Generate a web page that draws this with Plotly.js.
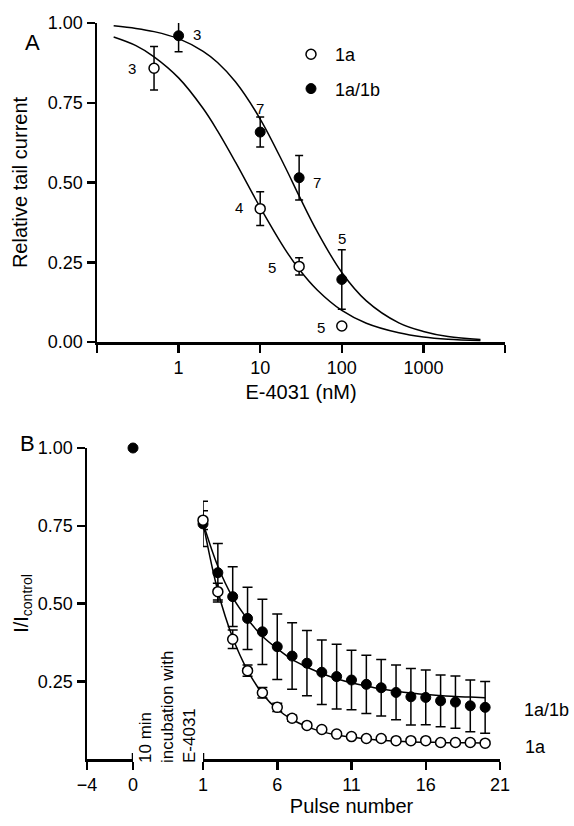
<!DOCTYPE html>
<html>
<head>
<meta charset="utf-8">
<script src="https://cdn.plot.ly/plotly-3.0.1.min.js"></script>
<style>html,body{margin:0;padding:0;background:#fff;}#chart{width:574px;height:826px;}</style>
</head>
<body>
<div id="chart"></div>
<script>
// ---------- Panel A data ----------
const concOpen = [0.5, 10, 30, 100];
const relOpen = [0.858, 0.418, 0.237, 0.05];
const errOpen = [0.068, 0.053, 0.027, 0];
const nOpen = ['3', '4', '5', '5'];

const concFilled = [1, 10, 30, 100];
const relFilled = [0.96, 0.658, 0.515, 0.196];
const errFilled = [0.05, 0.047, 0.07, 0.093];
const nFilled = ['3', '7', '7', '5'];

// fitted curves
const fitConc = [0.16, 0.3, 0.5, 1, 2, 3, 5, 10, 20, 30, 50, 100, 200, 500, 1000, 2000, 5000];
const fitOpenA = [0.956, 0.929, 0.894, 0.828, 0.732, 0.662, 0.563, 0.422, 0.292, 0.228, 0.163, 0.099, 0.059, 0.029, 0.016, 0.009, 0.0045];
const fitFilledA = [0.991, 0.983, 0.973, 0.951, 0.911, 0.876, 0.815, 0.699, 0.551, 0.458, 0.346, 0.218, 0.129, 0.060, 0.033, 0.017, 0.008];

const xTicksA = [1, 10, 100, 1000];
const xTickTextA = ['1', '10', '100', '1000'];
const xEndTicksA = [0.1, 10000];
const yTicks = [0, 0.25, 0.5, 0.75, 1];
const yTickTextA = ['0.00', '0.25', '0.50', '0.75', '1.00'];

// ---------- Panel B data ----------
const pulses = [1,2,3,4,5,6,7,8,9,10,11,12,13,14,15,16,17,18,19,20];
const open1a = [0.768,0.538,0.385,0.284,0.213,0.166,0.131,0.108,0.095,0.080,0.072,0.066,0.066,0.059,0.059,0.059,0.053,0.053,0.053,0.051];
const open1aErr = [0.03,0.027,0.03,0.018,0.017,0.013,0.01,0.006,0.005,0.005,0.005,0.005,0.005,0.005,0.005,0.005,0.005,0.005,0.005,0.005];
const filled1b = [0.756,0.599,0.522,0.452,0.409,0.361,0.331,0.308,0.279,0.265,0.254,0.240,0.229,0.214,0.200,0.198,0.187,0.183,0.171,0.166];
const filled1bErr = [0.073,0.094,0.096,0.100,0.105,0.105,0.107,0.105,0.104,0.104,0.096,0.094,0.091,0.088,0.091,0.088,0.083,0.084,0.083,0.083];
const fitOpenB = [0.76,0.54,0.39,0.285,0.21,0.16,0.127,0.104,0.088,0.077,0.07,0.064,0.06,0.057,0.055,0.054,0.053,0.052,0.052,0.051];
const fitFilledB = [0.76,0.62,0.52,0.45,0.395,0.355,0.32,0.295,0.275,0.258,0.245,0.235,0.225,0.218,0.212,0.207,0.204,0.201,0.199,0.197];
const controlX = [0];
const controlY = [1.0];
const xTicksB1 = [-4, 0];
const xTicksB2 = [1, 6, 11, 16, 21];
const yTicksB = [0.25, 0.5, 0.75, 1];
const yTickTextB = ['0.25', '0.50', '0.75', '1.00'];

const FONT = 'Arial, "Liberation Sans", sans-serif';
const W = 574, H = 826;
const px = v => v / W;
const py = v => 1 - v / H;

const lineStyle = {color: '#000', width: 1.5};
const openMarker = {symbol: 'circle', size: 10, color: '#fff', line: {color: '#000', width: 1.5}};
const filledMarker = {symbol: 'circle', size: 10, color: '#000', line: {color: '#000', width: 1}};

const traces = [
  {x: fitConc, y: fitOpenA, mode: 'lines', line: {...lineStyle, shape: 'spline'}, showlegend: false, xaxis: 'x', yaxis: 'y', hoverinfo: 'skip'},
  {x: fitConc, y: fitFilledA, mode: 'lines', line: {...lineStyle, shape: 'spline'}, showlegend: false, xaxis: 'x', yaxis: 'y', hoverinfo: 'skip'},
  {x: concOpen, y: relOpen, name: '1a', legendgroup: 'g1', mode: 'markers', marker: openMarker, cliponaxis: false,
   error_y: {type: 'data', array: errOpen, color: '#000', thickness: 1.5, width: 4}, xaxis: 'x', yaxis: 'y'},
  {x: concFilled, y: relFilled, name: '1a/1b', legendgroup: 'g2', mode: 'markers', marker: filledMarker, cliponaxis: false,
   error_y: {type: 'data', array: errFilled, color: '#000', thickness: 1.5, width: 4}, xaxis: 'x', yaxis: 'y'},
  // Panel B
  {x: pulses, y: fitOpenB, mode: 'lines', line: {...lineStyle, shape: 'spline'}, showlegend: false, xaxis: 'x3', yaxis: 'y2', hoverinfo: 'skip'},
  {x: pulses, y: fitFilledB, mode: 'lines', line: {...lineStyle, shape: 'spline'}, showlegend: false, xaxis: 'x3', yaxis: 'y2', hoverinfo: 'skip'},
  {x: pulses, y: filled1b, mode: 'markers', marker: filledMarker, showlegend: false, cliponaxis: false,
   error_y: {type: 'data', array: filled1bErr, color: '#000', thickness: 1.5, width: 5}, xaxis: 'x3', yaxis: 'y2'},
  {x: pulses, y: open1a, mode: 'markers', marker: openMarker, showlegend: false, cliponaxis: false,
   error_y: {type: 'data', array: open1aErr, color: '#000', thickness: 1.5, width: 5}, xaxis: 'x3', yaxis: 'y2'},
  {x: controlX, y: controlY, mode: 'markers', marker: filledMarker, showlegend: false, cliponaxis: false, xaxis: 'x2', yaxis: 'y2'}
];

const axisBase = {
  showline: true, linecolor: '#000', linewidth: 2.5, ticks: 'outside', ticklen: 8, tickwidth: 2.5, tickcolor: '#000',
  showgrid: false, zeroline: false, fixedrange: true,
  tickfont: {family: FONT, size: 18, color: '#000'}
};

const annotations = [];
const labelShiftOpen = [[-22, 0], [-21, 1], [-27, -1], [-21, -1]];
const labelShiftFilled = [[18, 1], [0, 24], [18, -5], [0, 41]];
concOpen.forEach((c, i) => annotations.push({x: Math.log10(c), y: relOpen[i], xref: 'x', yref: 'y', text: nOpen[i], showarrow: false,
  xshift: labelShiftOpen[i][0], yshift: labelShiftOpen[i][1], font: {family: FONT, size: 15, color: '#000'}}));
concFilled.forEach((c, i) => annotations.push({x: Math.log10(c), y: relFilled[i], xref: 'x', yref: 'y', text: nFilled[i], showarrow: false,
  xshift: labelShiftFilled[i][0], yshift: labelShiftFilled[i][1], font: {family: FONT, size: 15, color: '#000'}}));

annotations.push(
  {xref: 'paper', yref: 'paper', x: px(23), y: py(28), text: 'A', showarrow: false, font: {family: FONT, size: 22, color: '#000'}},
  {xref: 'paper', yref: 'paper', x: px(18), y: py(443), text: 'B', showarrow: false, font: {family: FONT, size: 22, color: '#000'}},
  {xref: 'paper', yref: 'paper', x: px(167), y: py(765), xanchor: 'center', yanchor: 'bottom', textangle: -90, align: 'left',
   text: '10 min<br>incubation with<br>E-4031', showarrow: false, font: {family: FONT, size: 17, color: '#000'}},
  {x: pulses[pulses.length - 1], y: filled1b[filled1b.length - 1], xref: 'x3', yref: 'y2', xanchor: 'left', xshift: 37, yshift: -3,
   text: '1a/1b', showarrow: false, font: {family: FONT, size: 18, color: '#000'}},
  {x: pulses[pulses.length - 1], y: open1a[open1a.length - 1], xref: 'x3', yref: 'y2', xanchor: 'left', xshift: 38, yshift: -4,
   text: '1a', showarrow: false, font: {family: FONT, size: 18, color: '#000'}}
);

// small break marks at the ends of the split pulse axis
const shapes = [
  {type: 'line', xref: 'x2', x0: xTicksB1[1], x1: xTicksB1[1], yref: 'y2', ysizemode: 'pixel', yanchor: 0, y0: 0, y1: 6, line: {color: '#000', width: 2.5}},
  {type: 'line', xref: 'x3', x0: xTicksB2[0], x1: xTicksB2[0], yref: 'y2', ysizemode: 'pixel', yanchor: 0, y0: 0, y1: 6, line: {color: '#000', width: 2.5}}
];

const layout = {
  width: W, height: H,
  margin: {l: 0, r: 0, t: 0, b: 0},
  paper_bgcolor: '#fff', plot_bgcolor: 'rgba(0,0,0,0)',
  font: {family: FONT, color: '#000'},
  showlegend: true,
  legend: {x: px(287), y: py(36), xanchor: 'left', yanchor: 'top', traceorder: 'grouped', tracegroupgap: 8, itemwidth: 38,
    font: {family: FONT, size: 18, color: '#000'}, bgcolor: 'rgba(0,0,0,0)'},
  xaxis: {...axisBase, type: 'log', range: [-1, 4], domain: [px(97), px(505)], anchor: 'y',
    tickvals: xTicksA, ticktext: xTickTextA,
    minor: {tickvals: xEndTicksA, ticks: 'outside', ticklen: 8, tickwidth: 2.5, tickcolor: '#000', showgrid: false},
    title: {text: 'E-4031 (nM)', font: {family: FONT, size: 20, color: '#000'}, standoff: 8}},
  yaxis: {...axisBase, range: [0, 1], domain: [1 - 342 / H, 1 - 23 / H], anchor: 'x',
    tickvals: yTicks, ticktext: yTickTextA,
    title: {text: 'Relative tail current', font: {family: FONT, size: 20, color: '#000'}, standoff: 15}},
  xaxis2: {...axisBase, range: [-4, 0], domain: [px(87), px(133)], anchor: 'y2', tickvals: xTicksB1},
  xaxis3: {...axisBase, range: [1, 21], domain: [px(203), px(500)], anchor: 'y2', tickvals: xTicksB2,
    title: {text: 'Pulse number', font: {family: FONT, size: 20, color: '#000'}, standoff: 5}},
  yaxis2: {...axisBase, range: [0, 1], domain: [1 - 759 / H, 1 - 448 / H], anchor: 'x2',
    tickvals: yTicksB, ticktext: yTickTextB,
    title: {text: 'I/I<sub>control</sub>', font: {family: FONT, size: 20, color: '#000'}, standoff: 4}},
  shapes: shapes,
  annotations: annotations
};

Plotly.newPlot('chart', traces, layout, {staticPlot: true, displayModeBar: false});
</script>
</body>
</html>
